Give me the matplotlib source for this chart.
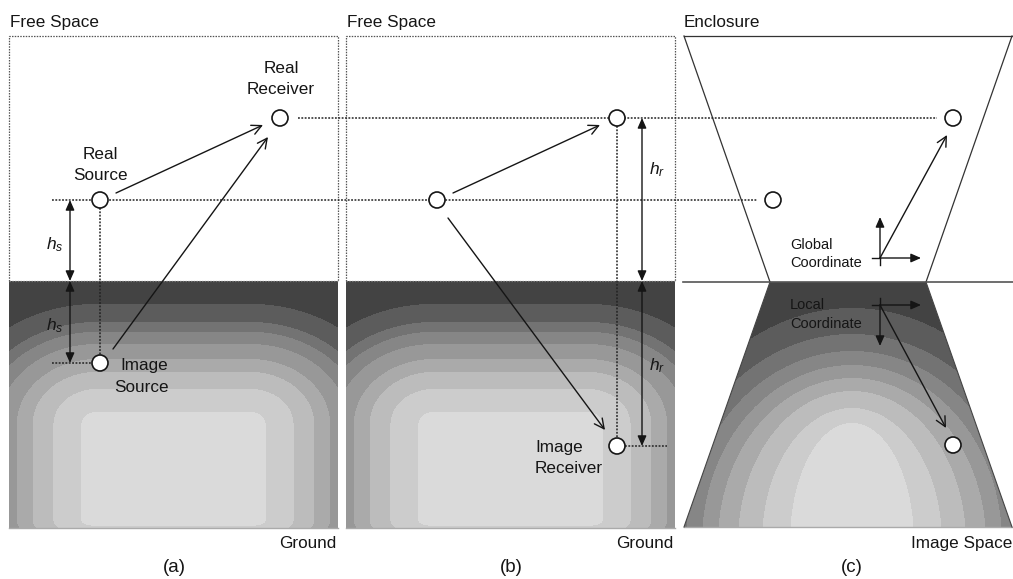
import numpy as np
import matplotlib
matplotlib.use("Agg")
import matplotlib.pyplot as plt
from matplotlib.patches import Circle, Polygon

# ---------------- data (pixel-space schematic) ----------------
panel_titles = ["Free Space", "Free Space", "Enclosure"]
panel_letters = ["(a)", "(b)", "(c)"]
bottom_labels = ["Ground", "Ground", "Image Space"]

# panel extents
box_x = [(9, 338), (346, 675)]
y_top, y_ground, y_bottom = 36, 281, 528
trap_upper = [(684, 36), (1012, 36), (926, 282), (770, 282)]
trap_lower = [(770, 282), (926, 282), (1012, 527), (684, 527)]

# source / receiver circles
circles = [(100, 200), (280, 118), (100, 363),
           (437, 200), (617, 118), (617, 446),
           (773, 200), (953, 118), (953, 445)]
circle_r = 8

# dotted guide lines (x0, y0, x1, y1)
dotted = [(298, 118, 937, 118), (52, 200, 757, 200),
          (100, 208, 100, 355), (52, 363, 92, 363),
          (617, 126, 617, 438), (625, 446, 667, 446)]

# propagation arrows (open heads)
rays = [((116, 193), (263, 125)), ((113, 349), (268, 137)),
        ((453, 193), (600, 125)), ((448, 218), (605, 430)),
        ((880, 258), (947, 135)), ((880, 305), (946, 428))]

# dimension arrows (double, filled heads)
dims = [((70, 200), (70, 281)), ((70, 281), (70, 363)),
        ((642, 118), (642, 281)), ((642, 281), (642, 446))]
dim_labels = [("$h_s$", 55, 245), ("$h_s$", 55, 326),
              ("$h_r$", 657, 170), ("$h_r$", 657, 366)]

# coordinate axes: origin, tail ends, arrow tips
axes_global = ((880, 258), (872, 265), (921, 217))
axes_local = ((880, 305), (872, 298), (921, 346))

labels = [  # text, x, baseline y, ha, size
    ("Real", 281, 73, "center", 12.3), ("Receiver", 281, 94, "center", 12.3),
    ("Real", 100, 159, "center", 12.3), ("Source", 100, 180, "center", 12.3),
    ("Image", 144, 370, "center", 12.3), ("Source", 141, 392, "center", 12.3),
    ("Image", 535, 452, "left", 12.3), ("Receiver", 535, 473, "left", 12.3),
    ("Global", 790, 249, "left", 10.5), ("Coordinate", 790, 267, "left", 10.5),
    ("Local", 790, 309, "left", 10.5), ("Coordinate", 790, 328, "left", 10.5),
]
title_pos = [(10, 27), (347, 27), (684, 27)]
bottom_pos = [(336, 548), (673, 548), (1012, 548)]
letter_pos = [(174, 568), (511, 568), (852, 568)]

# band thresholds (darkness) and gray levels of the ground shading
band_thresholds = [0.086, 0.246, 0.365, 0.455, 0.56, 0.645, 0.714, 0.84]
band_grays = [0.855, 0.80, 0.735, 0.665, 0.595, 0.525, 0.45, 0.36, 0.265]
# (c): semi-axes of the band ellipses (band index 0..8)
arch_center = (852, 542)
arch_rx = [62, 90, 114, 134, 150, 166, 184, 204, 226]
arch_ry = [119, 134, 151, 164, 177, 191, 208, 234, 262]

# ---------------- style ----------------
plt.rcParams["font.family"] = ["Liberation Sans", "DejaVu Sans"]
plt.rcParams["mathtext.fontset"] = "custom"
plt.rcParams["mathtext.it"] = "Liberation Sans:italic"
plt.rcParams["mathtext.rm"] = "Liberation Sans"

W, H = 1013, 579
fig = plt.figure(figsize=(W / 100, H / 100), dpi=100)
ax = fig.add_axes([0, 0, 1, 1])
ax.set_xlim(0, W)
ax.set_ylim(H, 0)
ax.axis("off")

DOT = (0, (1.2, 1.0))
INK = "#151515"


def to_gray(d):
    lev = np.zeros(d.shape, dtype=int)
    for th in band_thresholds:
        lev += (d > th).astype(int)
    return np.asarray(band_grays)[lev]


def rect_field(X, Y, xl, xr, y0, y1, top_frac=0.58, side_frac=0.266,
               side_amp=0.5, bot_amp=0.12, p=2.0):
    u = (X - xl) / (xr - xl)
    w = (Y - y0) / (y1 - y0)
    dt = np.clip(1 - w / top_frac, 0, 1)
    ds = side_amp * np.clip(1 - np.minimum(u, 1 - u) / side_frac, 0, 1)
    db = bot_amp * np.clip(1 - (1 - w) / 0.03, 0, 1)
    return np.clip((dt ** p + ds ** p + db ** p) ** (1 / p), 0, 1)


def arch_levels(X, Y):
    cx, cy = arch_center
    dx, dy = X - cx, Y - cy
    ks = np.arange(len(arch_rx), dtype=float)
    lo = np.full(X.shape, 0.0)
    hi = np.full(X.shape, float(len(arch_rx) - 1))
    for _ in range(30):
        k = 0.5 * (lo + hi)
        rx = np.interp(k, ks, arch_rx)
        ry = np.interp(k, ks, arch_ry)
        inside = (dx / rx) ** 2 + (dy / ry) ** 2 < 1
        hi = np.where(inside, k, hi)
        lo = np.where(inside, lo, k)
    k = 0.5 * (lo + hi)
    lev = np.clip(np.ceil(k - 1e-6), 0, len(band_grays) - 1).astype(int)
    return np.asarray(band_grays)[lev]


# ground gradients for (a) and (b)
for (x0, x1) in box_x:
    xs = np.arange(x0, x1) + 0.5
    ys = np.arange(y_ground, y_bottom) + 0.5
    X, Y = np.meshgrid(xs, ys)
    img = to_gray(rect_field(X, Y, x0, x1, y_ground, y_bottom))
    ax.imshow(img, cmap="gray", vmin=0, vmax=1, interpolation="nearest",
              extent=(x0, x1, y_bottom, y_ground), aspect="auto", zorder=1)
    ax.plot([x0, x0, x1, x1], [y_ground, y_top, y_top, y_ground],
            color="#555555", lw=0.9, ls=DOT, zorder=2)
    ax.plot([x0, x1], [y_ground, y_ground], color="#777777", lw=0.9, ls=DOT, zorder=2)
    ax.plot([x0, x1], [y_bottom, y_bottom], color="#aaaaaa", lw=1.0, zorder=2)

# ground gradient for (c), trapezoid
(tx0, ty0), (tx1, _), (bx1, by1), (bx0, _) = trap_lower
xs = np.arange(684, 1012) + 0.5
ys = np.arange(282, 527) + 0.5
X, Y = np.meshgrid(xs, ys)
img_c = arch_levels(X, Y)
im = ax.imshow(img_c, cmap="gray", vmin=0, vmax=1, interpolation="nearest",
               extent=(684, 1012, 527, 282), aspect="auto", zorder=1)
clip = Polygon(trap_lower, closed=True, transform=ax.transData)
im.set_clip_path(clip)
ax.plot([684, 1012], [527, 527], color="#aaaaaa", lw=1.0, zorder=2)
ax.plot([bx0, tx0], [by1, ty0], color="#444444", lw=0.8, zorder=2)
ax.plot([bx1, tx1], [by1, ty0], color="#444444", lw=0.8, zorder=2)

# upper trapezoid + ground line of (c)
ax.plot([trap_upper[0][0], trap_upper[1][0]], [trap_upper[0][1], trap_upper[1][1]],
        color="#333333", lw=0.9, zorder=2)
ax.plot([trap_upper[0][0], trap_upper[3][0]], [trap_upper[0][1], trap_upper[3][1]],
        color="#333333", lw=0.9, zorder=2)
ax.plot([trap_upper[1][0], trap_upper[2][0]], [trap_upper[1][1], trap_upper[2][1]],
        color="#333333", lw=0.9, zorder=2)
ax.plot([683, 1013], [282, 282], color="#555555", lw=1.2, zorder=3)

# dotted guide lines
for (x0, y0, x1, y1) in dotted:
    ax.plot([x0, x1], [y0, y1], color="#222222", lw=1.1, ls=DOT, zorder=3)

# rays
for p0, p1 in rays:
    ax.annotate("", xy=p1, xytext=p0, zorder=4,
                arrowprops=dict(arrowstyle="->,head_length=0.5,head_width=0.25",
                                lw=1.0, color=INK, shrinkA=0, shrinkB=0,
                                mutation_scale=14))

# dimension arrows
for p0, p1 in dims:
    ax.annotate("", xy=p1, xytext=p0, zorder=4,
                arrowprops=dict(arrowstyle="<|-|>,head_length=0.5,head_width=0.22",
                                lw=1.0, color=INK, shrinkA=0, shrinkB=0,
                                mutation_scale=12))
for txt, x, y in dim_labels:
    ax.text(x, y, txt, fontsize=12.5, ha="center", va="center", color=INK, zorder=5)

# coordinate axes
for (ox, oy), (px, py), (xt, yt) in (axes_global, axes_local):
    ax.plot([ox, ox], [oy, py], color=INK, lw=1.0, zorder=4)
    ax.plot([px, ox], [oy, oy], color=INK, lw=1.0, zorder=4)
    for tip in [(xt, oy), (ox, yt)]:
        ax.annotate("", xy=tip, xytext=(ox, oy), zorder=4,
                    arrowprops=dict(arrowstyle="-|>,head_length=0.5,head_width=0.22",
                                    lw=1.0, color=INK, shrinkA=0, shrinkB=0,
                                    mutation_scale=12))

# circles
for (cx, cy) in circles:
    ax.add_patch(Circle((cx, cy), circle_r, facecolor="white", edgecolor=INK,
                        lw=1.2, zorder=6))

# texts
for txt, x, y, ha, fs in labels:
    ax.text(x, y, txt, fontsize=fs, ha=ha, va="baseline", color=INK, zorder=7)
for txt, (x, y) in zip(panel_titles, title_pos):
    ax.text(x, y, txt, fontsize=12.3, ha="left", va="baseline", color=INK)
for txt, (x, y) in zip(bottom_labels, bottom_pos):
    ax.text(x, y, txt, fontsize=12.3, ha="right", va="baseline", color=INK)
for txt, (x, y) in zip(panel_letters, letter_pos):
    ax.text(x, y, txt, fontsize=13.5, ha="center", va="center", color=INK)

fig.savefig("out.png", dpi=100)
